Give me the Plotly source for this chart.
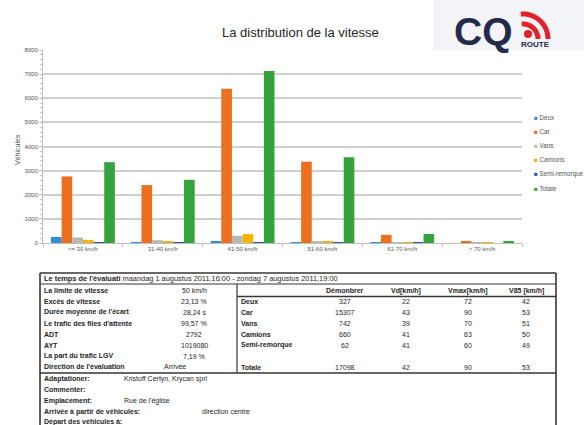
import math
import plotly.graph_objects as go

# ---------------- data ----------------
categories = ["<= 30 km/h", "31-40 km/h", "41-50 km/h", "51-60 km/h", "61-70 km/h", "> 70 km/h"]
series_names = ["Deux", "Car", "Vans", "Camions", "Semi-remorque", "Totale"]
deux = [250, 25, 45, 5, 2, 0]
car = [2760, 2400, 6390, 3370, 340, 47]
vans = [230, 120, 300, 80, 10, 2]
camions = [130, 80, 370, 60, 10, 10]
semi = [15, 5, 30, 10, 2, 0]
totale = [3350, 2620, 7130, 3550, 375, 70]
series_values = [deux, car, vans, camions, semi, totale]
series_colors = ["#2f8fd8", "#ec6f1f", "#b8b8b8", "#f5b400", "#2451b5", "#35a33c"]

y_ticks = [0, 1000, 2000, 3000, 4000, 5000, 6000, 7000, 8000]

header_label = "Le temps de l'évaluati"
header_period = "maandag 1 augustus 2011,16:00 - zondag 7 augustus 2011,19:00"
summary_labels = ["La limite de vitesse", "Excès de vitesse", "Durée moyenne de l'écart",
                  "Le trafic des files d'attente", "ADT", "AYT", "La part du trafic LGV",
                  "Direction de l'évaluation"]
summary_values = ["50 km/h", "23,13 %", "28,24 s", "99,57 %", "2792", "1019080", "7,19 %", "Arrivée"]

col_headers = ["Démonbrer", "Vd[km/h]", "Vmax[km/h]", "V85 [km/h]"]
vehicle_types = ["Deux", "Car", "Vans", "Camions", "Semi-remorque", "Totale"]
counts = ["327", "15307", "742", "660", "62", "17098"]
vd = ["22", "43", "39", "41", "41", "42"]
vmax = ["72", "90", "70", "63", "60", "90"]
v85 = ["42", "53", "51", "50", "49", "53"]

info_labels = ["Adaptationer:", "Commenter:", "Emplacement:", "Arrivée à partir de véhicules:",
               "Départ des véhicules à:"]
info_values = ["Kristoff Certyn, Krycan sprl", "", "Rue de l'église", "direction centre", ""]

# ---------------- layout helpers ----------------
W, H = 584, 425
L, R, T, B = 43, 522, 50, 243


def px(x):
    return (x - L) / (R - L)


def py(y):
    return (B - y) / (B - T)


FONT = "Liberation Sans, Arial, sans-serif"
fig = go.Figure()
for name, vals, col in zip(series_names, series_values, series_colors):
    fig.add_trace(go.Bar(x=categories, y=vals, name=name, marker=dict(color=col, line=dict(width=0)),
                         showlegend=False))

shapes = []
ann = []

# manual legend
leg_y0, leg_dy = 117, 14.2
for i, (name, col) in enumerate(zip(series_names, series_colors)):
    ann.append(dict(x=px(532), y=py(leg_y0 + i * leg_dy), xref="paper", yref="paper",
                    xanchor="left", yanchor="middle", showarrow=False,
                    text=f"<span style='color:{col}'>■</span> {name}",
                    font=dict(size=6.3, color="#555", family=FONT)))

# title and axis title
ann.append(dict(x=px(300), y=py(33), xref="paper", yref="paper", xanchor="center", yanchor="middle",
                showarrow=False, text="La distribution de la vitesse",
                font=dict(size=13, color="#262626", family=FONT)))
ann.append(dict(x=px(17), y=py(150), xref="paper", yref="paper", xanchor="center", yanchor="middle",
                showarrow=False, text="Véhicules", textangle=-90,
                font=dict(size=7, color="#555", family=FONT)))

# logo
shapes.append(dict(type="rect", xref="paper", yref="paper", x0=px(433), x1=px(590), y0=py(50), y1=py(-5),
                   fillcolor="#f3f4f7", line=dict(width=0), layer="above"))
ann.append(dict(x=px(483), y=py(31), xref="paper", yref="paper", xanchor="center", yanchor="middle",
                showarrow=False, text="<b>CQ</b>", font=dict(size=39, color="#242a4b", family=FONT)))
ann.append(dict(x=px(535), y=py(45), xref="paper", yref="paper", xanchor="center", yanchor="middle",
                showarrow=False, text="<b>ROUTE</b>", font=dict(size=8, color="#242a4b", family=FONT)))
cx, cy = 523, 39
for r in (15, 25):
    pts = []
    for k in range(0, 21):
        a = math.radians(95 - k * 95 / 20)
        pts.append((cx + r * math.cos(a), cy - r * math.sin(a)))
    path = "M " + " L ".join(f"{px(x):.4f},{py(y):.4f}" for x, y in pts)
    shapes.append(dict(type="path", xref="paper", yref="paper", path=path,
                       line=dict(color="#e3212a", width=5), layer="above"))
shapes.append(dict(type="circle", xref="paper", yref="paper", x0=px(524), x1=px(532), y0=py(38), y1=py(30),
                   fillcolor="#e3212a", line=dict(width=0), layer="above"))

# ---------------- table ----------------
LC = "#3a3434"


def hline(x0, x1, y, w=1.2):
    shapes.append(dict(type="line", xref="paper", yref="paper", x0=px(x0), x1=px(x1), y0=py(y), y1=py(y),
                       line=dict(color=LC, width=w)))


def vline(x, y0, y1, w=1.2):
    shapes.append(dict(type="line", xref="paper", yref="paper", x0=px(x), x1=px(x), y0=py(y0), y1=py(y1),
                       line=dict(color=LC, width=w)))


def txt(x, y, s, anchor="left", bold=False, size=7, color="#1e1e1e"):
    ann.append(dict(x=px(x), y=py(y), xref="paper", yref="paper", xanchor=anchor, yanchor="middle",
                    showarrow=False, text=(f"<b>{s}</b>" if bold else s),
                    font=dict(size=size, color=color, family=FONT)))


hline(40, 556, 273, 1.6)
vline(40, 273, 430, 1.6)
vline(556, 273, 430, 1.6)
hline(40, 556, 284, 1.2)
vline(237, 284, 373, 1.2)
hline(237, 556, 296.5, 1.4)
hline(40, 556, 373, 1.6)

txt(42, 278.5, f"<b>{header_label}</b> {header_period}", size=7.4)

row_y = [290, 301, 312, 323, 334, 345, 356, 366.5]
for lab, val, yy in zip(summary_labels, summary_values, row_y):
    txt(42, yy, lab, bold=True)
    if val == "Arrivée":
        txt(162, yy, val)
    else:
        txt(194, yy, val, anchor="center")

col_x = [345, 406, 468, 526]
for h, xx in zip(col_headers, col_x):
    txt(xx, 290.5, h, anchor="center", bold=True)
vrow_y = [301.5, 312, 323, 334, 345, 367]
for i, yy in enumerate(vrow_y):
    txt(239, yy, vehicle_types[i], bold=True)
    for xx, colvals in zip(col_x, [counts, vd, vmax, v85]):
        txt(xx, yy, colvals[i], anchor="center")

info_y = [378.5, 389.5, 400.5, 411.5, 421.5]
info_x = [122, 122, 122, 200, 122]
for lab, val, yy, xx in zip(info_labels, info_values, info_y, info_x):
    txt(42, yy, lab, bold=True)
    if val:
        txt(xx, yy, val)

fig.update_layout(
    width=W, height=H,
    margin=dict(l=L, r=W - R, t=T, b=H - B, pad=0),
    paper_bgcolor="white", plot_bgcolor="white",
    barmode="group", bargap=0.2, bargroupgap=0,
    showlegend=False,
    font=dict(family=FONT, size=6, color="#555"),
    xaxis=dict(type="category", showgrid=False, showline=True, linecolor="#bdbdbd", linewidth=1,
               ticks="outside", tickson="boundaries", ticklen=3, tickcolor="#bdbdbd",
               tickfont=dict(size=6, color="#555"), fixedrange=True),
    yaxis=dict(range=[0, 8000], tickvals=y_ticks, showgrid=True, gridcolor="#cfcfcf", gridwidth=1.5,
               showline=True, linecolor="#bdbdbd", linewidth=1, zeroline=False,
               ticks="outside", ticklen=3, tickcolor="#bdbdbd",
               minor=dict(dtick=200, ticks="outside", ticklen=2, tickcolor="#c8c8c8", showgrid=False),
               tickfont=dict(size=6, color="#555"), fixedrange=True),
    shapes=shapes, annotations=ann,
)

fig.write_html("out.html", config={"displayModeBar": False},
               post_script="document.body.style.margin='0';document.body.style.padding='0';")
